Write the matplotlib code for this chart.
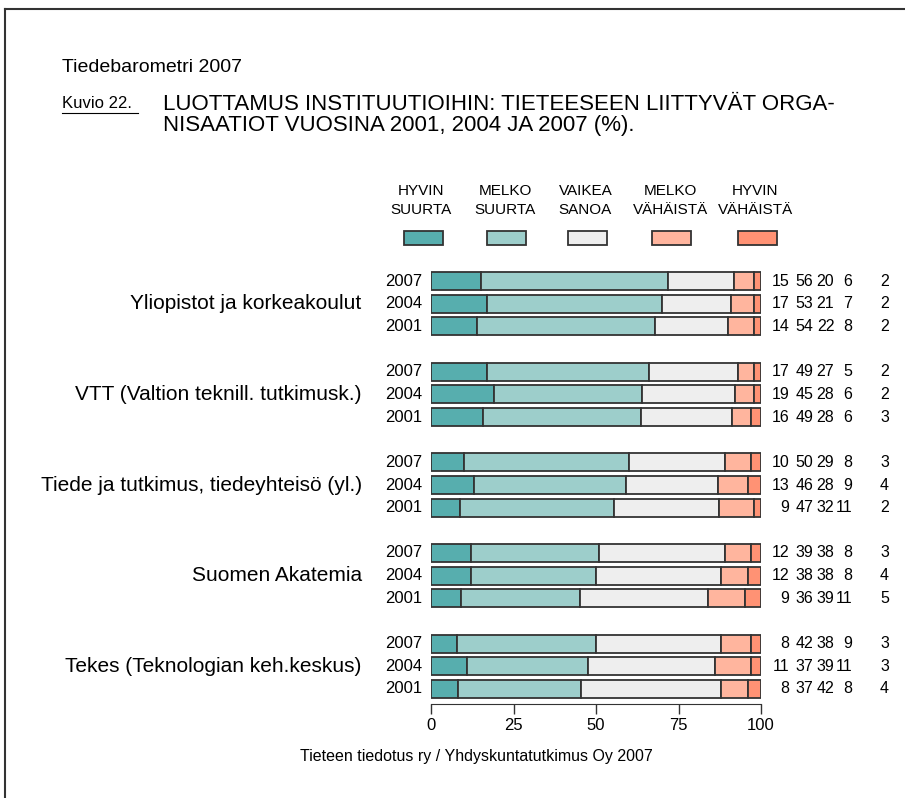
import matplotlib
matplotlib.use("Agg")
import matplotlib.pyplot as plt
from matplotlib.patches import Rectangle
from matplotlib.lines import Line2D

plt.rcParams['font.family'] = ['Liberation Sans', 'DejaVu Sans']

categories = ['Yliopistot ja korkeakoulut', 'VTT (Valtion teknill. tutkimusk.)',
              'Tiede ja tutkimus, tiedeyhteisö (yl.)', 'Suomen Akatemia',
              'Tekes (Teknologian keh.keskus)']
years = ['2007', '2004', '2001']
series = ['HYVIN\nSUURTA', 'MELKO\nSUURTA', 'VAIKEA\nSANOA', 'MELKO\nVÄHÄISTÄ', 'HYVIN\nVÄHÄISTÄ']
colors = ['#57AEAE', '#9DCECB', '#EEEEEE', '#FFB59E', '#FF9274']

# rows per category: 2007, 2004, 2001
hyvin_suurta = [[15, 17, 14], [17, 19, 16], [10, 13, 9], [12, 12, 9], [8, 11, 8]]
melko_suurta = [[56, 53, 54], [49, 45, 49], [50, 46, 47], [39, 38, 36], [42, 37, 37]]
vaikea_sanoa = [[20, 21, 22], [27, 28, 28], [29, 28, 32], [38, 38, 39], [38, 39, 42]]
melko_vahaista = [[6, 7, 8], [5, 6, 6], [8, 9, 11], [8, 8, 11], [9, 11, 8]]
hyvin_vahaista = [[2, 2, 2], [2, 2, 3], [3, 4, 2], [3, 4, 5], [3, 3, 4]]
values = [hyvin_suurta, melko_suurta, vaikea_sanoa, melko_vahaista, hyvin_vahaista]

fig = plt.figure(figsize=(9.05, 7.98), dpi=100)
ax = fig.add_axes([431 / 905, 1 - 703.7 / 798, 330 / 905, (703.7 - 269.7) / 798])

num_x = [108.6, 115.8, 122.2, 127.6, 138.8]
for g, cat in enumerate(categories):
    for r, yr in enumerate(years):
        y = g * 4 + r
        vals = [v[g][r] for v in values]
        total = sum(vals)
        left = 0
        for k, v in enumerate(vals):
            w = v * 100 / total
            ax.barh(y, w, left=left, height=0.8, color=colors[k],
                    edgecolor='#333333', linewidth=1.3)
            left += w
        ax.text(-2.8, y, yr, ha='right', va='center', fontsize=12)
        for k, v in enumerate(vals):
            ax.text(num_x[k], y, str(v), ha='right', va='center', fontsize=11.5,
                    clip_on=False)
    ax.text(-21, g * 4 + 1, cat, ha='right', va='center', fontsize=15)

# legend
leg_x = [-2.4, 23.0, 47.3, 73.0, 98.8]
for k, name in enumerate(series):
    ax.add_patch(Rectangle((leg_x[k] - 5.9, -1.9 - 0.31), 11.8, 0.62,
                           facecolor=colors[k], edgecolor='#333333',
                           linewidth=1.3, clip_on=False))
    ax.text(leg_x[k] - 0.5, -3.55, name, ha='center', va='center', fontsize=11,
            linespacing=1.4)

ax.set_xlim(0, 100)
ax.set_ylim(18.65, -0.5)
ax.set_xticks([0, 25, 50, 75, 100])
ax.set_yticks([])
for s in ['left', 'right', 'top']:
    ax.spines[s].set_visible(False)
ax.spines['bottom'].set_color('#333333')
ax.tick_params(axis='x', length=7, width=1, color='#333333', labelsize=12, pad=3)

fig.text(62 / 905, 1 - 68 / 798, 'Tiedebarometri 2007', ha='left', va='center', fontsize=14)
fig.text(62 / 905, 1 - 103 / 798, 'Kuvio 22.', ha='left', va='center', fontsize=12)
fig.add_artist(Line2D([62 / 905, 138 / 905], [1 - 113 / 798, 1 - 113 / 798],
                      color='black', linewidth=0.8))
fig.text(163 / 905, 1 - 115 / 798,
         'LUOTTAMUS INSTITUUTIOIHIN: TIETEESEEN LIITTYVÄT ORGA-\nNISAATIOT VUOSINA 2001, 2004 JA 2007 (%).',
         ha='left', va='center', fontsize=16, linespacing=1.05)
fig.text(476 / 905, 1 - 757 / 798, 'Tieteen tiedotus ry / Yhdyskuntatutkimus Oy 2007',
         ha='center', va='center', fontsize=11.5)

# page frame
fig.add_artist(Line2D([5 / 905, 5 / 905], [0, 1 - 9 / 798], color='#333333', linewidth=1.5))
fig.add_artist(Line2D([5 / 905, 1], [1 - 9 / 798, 1 - 9 / 798], color='#333333', linewidth=1.5))

fig.savefig('out.png', dpi=100)
